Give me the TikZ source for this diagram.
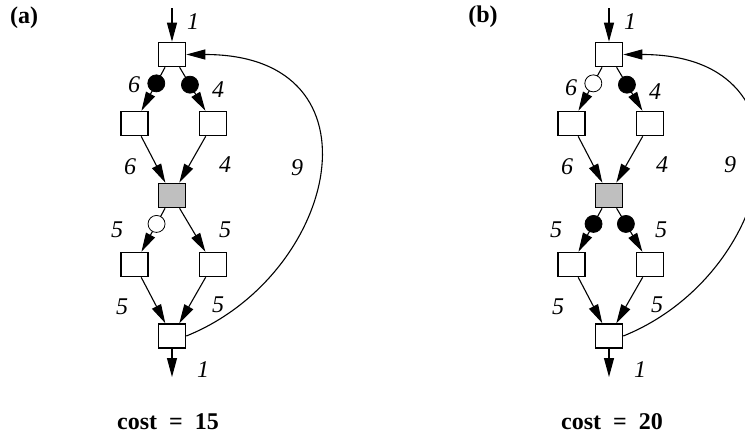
\documentclass[tikz,border=0pt]{standalone}
\usepackage{fontspec}
\setmainfont{Liberation Serif}
\usetikzlibrary{arrows.meta}

\tikzset{
  box/.style={draw, line width=1.6pt, fill=white, inner sep=0pt,
    minimum width=27pt, minimum height=24pt},
  hotbox/.style={box, fill=gray!50},
  link/.style={line width=1.1pt, -{Triangle[length=19pt,width=10pt]}},
  fulldot/.style={circle, draw, line width=0.8pt, fill=black, inner sep=0pt,
    minimum size=17pt},
  opendot/.style={fulldot, fill=white},
  cnt/.style={font=\fontsize{24}{28}\selectfont\itshape},
  caption/.style={font=\fontsize{24}{28}\selectfont\bfseries},
}

\begin{document}
\begin{tikzpicture}[x=1pt,y=-1pt]

		\useasboundingbox (0,0) rectangle (745,437);
		\clip (0,0) rectangle (745,437);

		% (a) two full dots above, one open dot below
		\node[caption] (a-tag) at (24,18) {(a)};
		\node[box]    (a-top) at (172,54.5) {};
		\node[box]    (a-l1)  at (134.5,123.5) {};
		\node[box]    (a-r1)  at (213,123.5) {};
		\node[hotbox] (a-mid) at (172,195.5) {};
		\node[box]    (a-l2)  at (134.5,264.5) {};
		\node[box]    (a-r2)  at (213,264.5) {};
		\node[box]    (a-bot) at (172,336) {};
		\coordinate (a-in)  at (172,8);
		\coordinate (a-out) at (172,377);

		\draw[link] (a-in) -- (a-top);
		\draw[link] (a-top) -- node[fulldot,pos=0.37] (a-d1) {} (a-l1);
		\draw[link] (a-top) -- node[fulldot,pos=0.40] (a-d2) {} (a-r1);
		\draw[link] (a-l1) -- (a-mid);
		\draw[link] (a-r1) -- (a-mid);
		\draw[link] (a-mid) -- node[opendot,pos=0.36] (a-d3) {} (a-l2);
		\draw[link] (a-mid) -- (a-r2);
		\draw[link] (a-l2) -- (a-bot);
		\draw[link] (a-r2) -- (a-bot);
		\draw[link] (a-bot) -- (a-out);
		\draw[link] (a-bot.east) .. controls (338,275) and (388,54.5) .. (a-top.east);

		\node[cnt] (a-n1) at (193,22)  {1};
		\node[cnt] (a-n2) at (134,85)  {6};
		\node[cnt] (a-n3) at (218,90)  {4};
		\node[cnt] (a-n4) at (130,167) {6};
		\node[cnt] (a-n5) at (225,165) {4};
		\node[cnt] (a-n6) at (297,168) {9};
		\node[cnt] (a-n7) at (117,230) {5};
		\node[cnt] (a-n8) at (225,230) {5};
		\node[cnt] (a-n9) at (122,307) {5};
		\node[cnt] (a-n10) at (218,305) {5};
		\node[cnt] (a-n11) at (203,370) {1};
		\node[caption] (a-cost) at (168,422) {cost\ \ =\ \ 15};

		% (b) one open dot above, full dots below
		\begin{scope}[xshift=437pt]
		\node[caption] (b-tag) at (46,17) {(b)};
		\node[box]    (b-top) at (172,54.5) {};
		\node[box]    (b-l1)  at (134.5,123.5) {};
		\node[box]    (b-r1)  at (213,123.5) {};
		\node[hotbox] (b-mid) at (172,195.5) {};
		\node[box]    (b-l2)  at (134.5,264.5) {};
		\node[box]    (b-r2)  at (213,264.5) {};
		\node[box]    (b-bot) at (172,336) {};
		\coordinate (b-in)  at (172,8);
		\coordinate (b-out) at (172,377);

		\draw[link] (b-in) -- (b-top);
		\draw[link] (b-top) -- node[opendot,pos=0.37] (b-d1) {} (b-l1);
		\draw[link] (b-top) -- node[fulldot,pos=0.40] (b-d2) {} (b-r1);
		\draw[link] (b-l1) -- (b-mid);
		\draw[link] (b-r1) -- (b-mid);
		\draw[link] (b-mid) -- node[fulldot,pos=0.36] (b-d3) {} (b-l2);
		\draw[link] (b-mid) -- node[fulldot,pos=0.36] (b-d4) {} (b-r2);
		\draw[link] (b-l2) -- (b-bot);
		\draw[link] (b-r2) -- (b-bot);
		\draw[link] (b-bot) -- (b-out);
		\draw[link] (b-bot.east) .. controls (338,275) and (388,54.5) .. (b-top.east);

		\node[cnt] (b-n1) at (193,22)  {1};
		\node[cnt] (b-n2) at (134,88)  {6};
		\node[cnt] (b-n3) at (218,92)  {4};
		\node[cnt] (b-n4) at (130,167) {6};
		\node[cnt] (b-n5) at (225,165) {4};
		\node[cnt] (b-n6) at (293,165) {9};
		\node[cnt] (b-n7) at (119,230) {5};
		\node[cnt] (b-n8) at (224,230) {5};
		\node[cnt] (b-n9) at (121,307) {5};
		\node[cnt] (b-n10) at (220,305) {5};
		\node[cnt] (b-n11) at (203,370) {1};
		\node[caption] (b-cost) at (175,422) {cost\ \ =\ \ 20};
		\end{scope}

	\end{tikzpicture}
\end{document}
